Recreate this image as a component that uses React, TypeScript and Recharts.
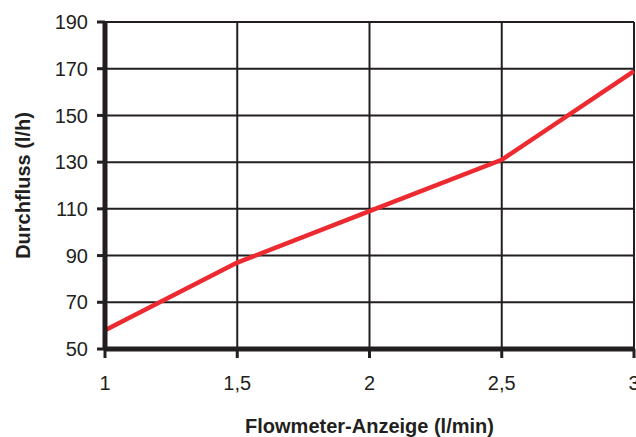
import React from 'react';
import { LineChart, Line, XAxis, YAxis, CartesianGrid, Label } from 'recharts';

const flowmeter = [1, 1.5, 2, 2.5, 3];
const durchfluss = [58, 87, 109, 131, 169];
const xTicks = [1, 1.5, 2, 2.5, 3];
const yTicks = [50, 70, 90, 110, 130, 150, 170, 190];

const data = flowmeter.map((x, i) => ({ x, y: durchfluss[i] }));

const ink = '#231f20';
const font = '"Liberation Sans", Arial, sans-serif';

export default function App() {
  return (
    <div style={{ position: 'absolute', left: 0, top: 0, background: '#fff' }}>
      <LineChart
        width={636}
        height={437}
        data={data}
        margin={{ top: 22, right: 2, left: 0, bottom: 0 }}
      >
        <CartesianGrid stroke={ink} strokeWidth={2} />
        <XAxis
          type="number"
          dataKey="x"
          domain={[1, 3]}
          ticks={xTicks}
          tickFormatter={(v: number) => String(v).replace('.', ',')}
          height={88}
          stroke={ink}
          axisLine={{ stroke: ink, strokeWidth: 5 }}
          tickLine={{ stroke: ink, strokeWidth: 3 }}
          tickSize={9}
          tickMargin={18}
          tick={{ fill: ink, fontSize: 20, fontFamily: font }}
          interval={0}
        >
          <Label
            value="Flowmeter-Anzeige (l/min)"
            position="insideBottom"
            offset={4}
            style={{ fill: ink, fontSize: 20, fontWeight: 'bold', fontFamily: font }}
          />
        </XAxis>
        <YAxis
          type="number"
          domain={[50, 190]}
          ticks={yTicks}
          width={105}
          stroke={ink}
          axisLine={{ stroke: ink, strokeWidth: 5 }}
          tickLine={{ stroke: ink, strokeWidth: 3 }}
          tickSize={8}
          tickMargin={9}
          tick={{ fill: ink, fontSize: 20, fontFamily: font }}
          interval={0}
        >
          <Label
            value="Durchfluss (l/h)"
            angle={-90}
            position="insideLeft"
            offset={23}
            style={{ fill: ink, fontSize: 20, fontWeight: 'bold', fontFamily: font, textAnchor: 'middle' }}
          />
        </YAxis>
        <Line
          type="linear"
          dataKey="y"
          stroke="#ec2a30"
          strokeWidth={4.5}
          dot={false}
          isAnimationActive={false}
        />
      </LineChart>
    </div>
  );
}
